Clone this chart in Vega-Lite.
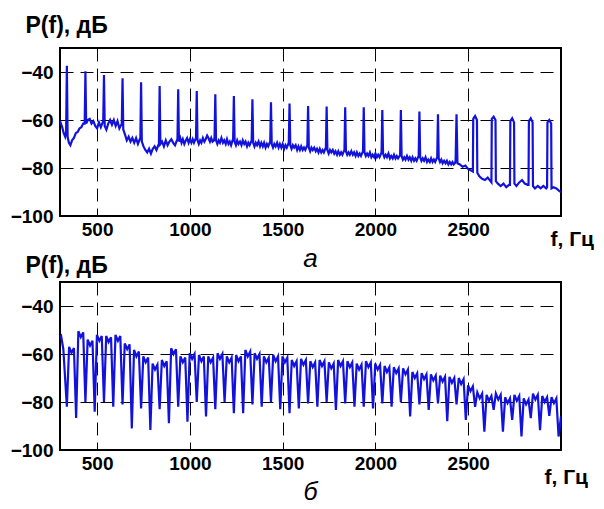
{
  "$schema": "https://vega.github.io/schema/vega-lite/v6.json",
  "padding": {"left": 9, "top": 13, "right": 5, "bottom": 2},
  "spacing": 66,
  "bounds": "flush",
  "config": {
    "font": "Liberation Sans",
    "view": {"stroke": "black", "strokeWidth": 2},
    "axis": {
      "labelFont": "Liberation Sans", "labelFontSize": 19, "labelFontWeight": "bold", "labelColor": "black", "format": "d",
      "grid": true, "gridColor": "black", "gridDash": [13, 7], "gridWidth": 1, "gridOpacity": 1,
      "domain": false, "ticks": false,
      "titleFont": "Liberation Sans", "titleFontSize": 21, "titleFontWeight": "bold", "titleColor": "black"
    },
    "axisX": {"labelPadding": 4},
    "axisY": {"labelPadding": 7, "titleFontSize": 23},
    "title": {"font": "Liberation Sans", "fontSize": 26, "fontStyle": "italic", "fontWeight": "normal", "color": "black"}
  },
  "vconcat": [
    {
      "width": 501, "height": 168,
      "title": {"text": "а", "orient": "bottom", "anchor": "middle", "offset": -3},
      "data": {"values": [
        {"f":300,"p":-60.5},{"f":305,"p":-61.5},{"f":312,"p":-63},{"f":320,"p":-65.5},{"f":328,"p":-67},{"f":333,"p":-65},{"f":337,"p":-37.4},{"f":341,"p":-67},
        {"f":348,"p":-69.5},{"f":356,"p":-70.5},{"f":365,"p":-68.5},{"f":375,"p":-67.5},{"f":385,"p":-65.5},{"f":395,"p":-65},{"f":405,"p":-63.5},{"f":415,"p":-63},{"f":425,"p":-61.5},{"f":433,"p":-61.5},{"f":437,"p":-39.7},{"f":441,"p":-61.5},
        {"f":450,"p":-60},{"f":460,"p":-59.5},{"f":470,"p":-61.5},{"f":480,"p":-60.5},{"f":490,"p":-62.5},{"f":500,"p":-63.5},{"f":510,"p":-61},{"f":520,"p":-63},{"f":530,"p":-61},{"f":533,"p":-60.5},{"f":537,"p":-41.3},{"f":541,"p":-62.5},
        {"f":550,"p":-64},{"f":560,"p":-61.5},{"f":570,"p":-60},{"f":580,"p":-62},{"f":590,"p":-60},{"f":600,"p":-62.5},{"f":610,"p":-60.5},{"f":620,"p":-63.5},{"f":630,"p":-62},{"f":633,"p":-62},{"f":637,"p":-42.6},{"f":641,"p":-64},
        {"f":650,"p":-66},{"f":660,"p":-68.5},{"f":670,"p":-67},{"f":680,"p":-69},{"f":690,"p":-67.5},{"f":700,"p":-69.5},{"f":710,"p":-67.5},{"f":720,"p":-70},{"f":730,"p":-68},{"f":733,"p":-68},{"f":737,"p":-44.3},{"f":741,"p":-69},
        {"f":750,"p":-71},{"f":760,"p":-72.5},{"f":770,"p":-73.5},{"f":780,"p":-72},{"f":790,"p":-74},{"f":800,"p":-72},{"f":810,"p":-71},{"f":820,"p":-72.5},{"f":830,"p":-70.5},{"f":833,"p":-70.5},{"f":837,"p":-45.8},{"f":841,"p":-70},
        {"f":850,"p":-69},{"f":860,"p":-71},{"f":870,"p":-68.5},{"f":880,"p":-70.5},{"f":890,"p":-69},{"f":900,"p":-68},{"f":910,"p":-69.5},{"f":920,"p":-70.5},{"f":930,"p":-68.5},{"f":933,"p":-68.5},{"f":937,"p":-47.2},{"f":941,"p":-69},
        {"f":948,"p":-67.5},{"f":955,"p":-69.5},{"f":962,"p":-68},{"f":970,"p":-70},{"f":978,"p":-68.5},{"f":985,"p":-67.5},{"f":993,"p":-69.5},{"f":1000,"p":-68},{"f":1008,"p":-69.5},{"f":1015,"p":-68},{"f":1022,"p":-69.5},{"f":1030,"p":-68},{"f":1033,"p":-67.5},{"f":1037,"p":-47.9},{"f":1041,"p":-68.5},
        {"f":1048,"p":-70},{"f":1055,"p":-68.5},{"f":1062,"p":-69.5},{"f":1070,"p":-67.5},{"f":1078,"p":-69},{"f":1085,"p":-68},{"f":1093,"p":-66.5},{"f":1100,"p":-67.5},{"f":1108,"p":-69},{"f":1115,"p":-67.5},{"f":1122,"p":-69},{"f":1130,"p":-68.5},{"f":1133,"p":-67},{"f":1137,"p":-49.3},{"f":1141,"p":-68.5},
        {"f":1148,"p":-70},{"f":1155,"p":-68.5},{"f":1162,"p":-69.5},{"f":1170,"p":-67.5},{"f":1178,"p":-69.5},{"f":1185,"p":-68.5},{"f":1193,"p":-70},{"f":1200,"p":-68},{"f":1208,"p":-70},{"f":1215,"p":-69},{"f":1222,"p":-70.5},{"f":1230,"p":-68.5},{"f":1233,"p":-68},{"f":1237,"p":-50},{"f":1241,"p":-69},
        {"f":1248,"p":-70.5},{"f":1255,"p":-68.5},{"f":1262,"p":-70},{"f":1270,"p":-69},{"f":1278,"p":-70.5},{"f":1285,"p":-68.5},{"f":1293,"p":-70},{"f":1300,"p":-69},{"f":1308,"p":-71},{"f":1315,"p":-69.5},{"f":1322,"p":-70.5},{"f":1330,"p":-69},{"f":1333,"p":-68.5},{"f":1337,"p":-51.4},{"f":1341,"p":-69.5},
        {"f":1348,"p":-71},{"f":1355,"p":-69.5},{"f":1362,"p":-70.5},{"f":1370,"p":-69},{"f":1378,"p":-71},{"f":1385,"p":-69.5},{"f":1393,"p":-71},{"f":1400,"p":-69.5},{"f":1408,"p":-71.5},{"f":1415,"p":-70},{"f":1422,"p":-71},{"f":1430,"p":-69.5},{"f":1433,"p":-69},{"f":1437,"p":-52.6},{"f":1441,"p":-70},
        {"f":1448,"p":-71.5},{"f":1455,"p":-70},{"f":1462,"p":-71},{"f":1470,"p":-69.5},{"f":1478,"p":-71.5},{"f":1485,"p":-70},{"f":1493,"p":-71.5},{"f":1500,"p":-70},{"f":1508,"p":-72},{"f":1515,"p":-70.5},{"f":1522,"p":-71.5},{"f":1530,"p":-70},{"f":1533,"p":-69.5},{"f":1537,"p":-53.1},{"f":1541,"p":-70.5},
        {"f":1548,"p":-72},{"f":1555,"p":-70.5},{"f":1562,"p":-71.5},{"f":1570,"p":-70.5},{"f":1578,"p":-72.5},{"f":1585,"p":-71},{"f":1593,"p":-72.5},{"f":1600,"p":-71},{"f":1608,"p":-72.5},{"f":1615,"p":-71.5},{"f":1622,"p":-72.5},{"f":1630,"p":-71},{"f":1633,"p":-70.5},{"f":1637,"p":-54.2},{"f":1641,"p":-71.5},
        {"f":1648,"p":-73},{"f":1655,"p":-71.5},{"f":1662,"p":-72.5},{"f":1670,"p":-71.5},{"f":1678,"p":-73},{"f":1685,"p":-72},{"f":1693,"p":-73.5},{"f":1700,"p":-72},{"f":1708,"p":-73.5},{"f":1715,"p":-72.5},{"f":1722,"p":-73.5},{"f":1730,"p":-72},{"f":1733,"p":-71.5},{"f":1737,"p":-54.4},{"f":1741,"p":-72.5},
        {"f":1748,"p":-74},{"f":1755,"p":-72.5},{"f":1762,"p":-73.5},{"f":1770,"p":-72.5},{"f":1778,"p":-74},{"f":1785,"p":-73},{"f":1793,"p":-74.5},{"f":1800,"p":-73},{"f":1808,"p":-74.5},{"f":1815,"p":-73.5},{"f":1822,"p":-74.5},{"f":1830,"p":-73},{"f":1833,"p":-72.5},{"f":1837,"p":-54.7},{"f":1841,"p":-73},
        {"f":1848,"p":-74.5},{"f":1855,"p":-73.5},{"f":1862,"p":-74.5},{"f":1870,"p":-73},{"f":1878,"p":-74.5},{"f":1885,"p":-73.5},{"f":1893,"p":-75},{"f":1900,"p":-73.5},{"f":1908,"p":-75},{"f":1915,"p":-74},{"f":1922,"p":-75},{"f":1930,"p":-73.5},{"f":1933,"p":-73},{"f":1937,"p":-54.7},{"f":1941,"p":-73.5},
        {"f":1948,"p":-75},{"f":1955,"p":-74},{"f":1962,"p":-75},{"f":1970,"p":-73.5},{"f":1978,"p":-75.5},{"f":1985,"p":-74.5},{"f":1993,"p":-75.5},{"f":2000,"p":-74},{"f":2008,"p":-75.5},{"f":2015,"p":-74.5},{"f":2022,"p":-75.5},{"f":2030,"p":-74},{"f":2033,"p":-73.5},{"f":2037,"p":-55.8},{"f":2041,"p":-74},
        {"f":2048,"p":-75.5},{"f":2055,"p":-74.5},{"f":2062,"p":-75.5},{"f":2070,"p":-74},{"f":2078,"p":-76},{"f":2085,"p":-75},{"f":2093,"p":-76},{"f":2100,"p":-74.5},{"f":2108,"p":-76},{"f":2115,"p":-75},{"f":2122,"p":-76},{"f":2130,"p":-75},{"f":2133,"p":-74.5},{"f":2137,"p":-55.8},{"f":2141,"p":-75},
        {"f":2148,"p":-76.5},{"f":2155,"p":-75.5},{"f":2162,"p":-76.5},{"f":2170,"p":-75},{"f":2178,"p":-76.5},{"f":2185,"p":-75.5},{"f":2193,"p":-77},{"f":2200,"p":-75.5},{"f":2208,"p":-77},{"f":2215,"p":-76},{"f":2222,"p":-77},{"f":2230,"p":-75.5},{"f":2233,"p":-75},{"f":2237,"p":-56.5},{"f":2241,"p":-75.5},
        {"f":2248,"p":-77},{"f":2255,"p":-76},{"f":2262,"p":-77},{"f":2270,"p":-75.5},{"f":2278,"p":-77.5},{"f":2285,"p":-76.5},{"f":2293,"p":-77.5},{"f":2300,"p":-76},{"f":2308,"p":-77.5},{"f":2315,"p":-76.5},{"f":2322,"p":-77.5},{"f":2330,"p":-76},{"f":2333,"p":-75.5},{"f":2337,"p":-57.6},{"f":2341,"p":-76},
        {"f":2348,"p":-77.5},{"f":2355,"p":-76.5},{"f":2362,"p":-78},{"f":2370,"p":-77},{"f":2378,"p":-78},{"f":2385,"p":-77},{"f":2393,"p":-78.5},{"f":2400,"p":-77.5},{"f":2408,"p":-78.5},{"f":2415,"p":-77.5},{"f":2422,"p":-78.5},{"f":2428,"p":-78},{"f":2432,"p":-77},{"f":2437,"p":-57.6},{"f":2442,"p":-78},
        {"f":2455,"p":-78.5},{"f":2470,"p":-79.5},{"f":2485,"p":-79},{"f":2500,"p":-80.5},{"f":2515,"p":-81},{"f":2525,"p":-81.5},{"f":2527,"p":-59.5},{"f":2537,"p":-58.3},{"f":2547,"p":-60},{"f":2549,"p":-82},
        {"f":2560,"p":-83.5},{"f":2575,"p":-84.5},{"f":2590,"p":-85},{"f":2605,"p":-84},{"f":2620,"p":-85.5},{"f":2625,"p":-86},{"f":2627,"p":-59.5},{"f":2637,"p":-58.6},{"f":2647,"p":-60},{"f":2649,"p":-85.5},
        {"f":2660,"p":-86.5},{"f":2675,"p":-87.5},{"f":2690,"p":-86.5},{"f":2705,"p":-88},{"f":2720,"p":-87},{"f":2725,"p":-87},{"f":2727,"p":-60.5},{"f":2737,"p":-59.3},{"f":2747,"p":-61},{"f":2749,"p":-86.5},
        {"f":2760,"p":-87.5},{"f":2775,"p":-86},{"f":2790,"p":-85},{"f":2805,"p":-86.5},{"f":2820,"p":-87},{"f":2825,"p":-87},{"f":2827,"p":-60.5},{"f":2837,"p":-59.3},{"f":2847,"p":-61},{"f":2849,"p":-87.5},
        {"f":2860,"p":-88.5},{"f":2875,"p":-87.5},{"f":2890,"p":-88.5},{"f":2905,"p":-87.5},{"f":2920,"p":-88.5},{"f":2925,"p":-88},{"f":2927,"p":-61},{"f":2937,"p":-60},{"f":2947,"p":-61.5},{"f":2949,"p":-88.5},
        {"f":2960,"p":-88},{"f":2975,"p":-88.5},{"f":2990,"p":-89.5},{"f":3000,"p":-90}
      ]},
      "mark": {"type": "line", "color": "#1212dc", "strokeWidth": 2.2, "clip": true},
      "encoding": {
        "x": {"field": "f", "type": "quantitative", "scale": {"domain": [300, 3000], "nice": false, "zero": false},
              "axis": {"values": [500, 1000, 1500, 2000, 2500], "title": "f, Гц", "titleAngle": 0, "titleX": 490, "titleY": 23, "titleAlign": "left", "titleBaseline": "middle"}},
        "y": {"field": "p", "type": "quantitative", "scale": {"domain": [-100, -30], "nice": false, "zero": false},
              "axis": {"values": [-100, -80, -60, -40], "title": "P(f), дБ", "titleAngle": 0, "titleX": -35, "titleY": -23, "titleAlign": "left", "titleBaseline": "middle"}}
      }
    },
    {
      "width": 501, "height": 168,
      "title": {"text": "б", "orient": "bottom", "anchor": "middle", "offset": -7, "fontSize": 25},
      "data": {"values": [
        {"f":300,"p":-53},{"f":306,"p":-52.5},{"f":318,"p":-58},
        {"f":337,"p":-82},{"f":349,"p":-57},{"f":362,"p":-59.5},{"f":375,"p":-57.5},
        {"f":387,"p":-86.7},{"f":399,"p":-50.5},{"f":412,"p":-53},{"f":425,"p":-51},
        {"f":437,"p":-80},{"f":449,"p":-54},{"f":462,"p":-56.5},{"f":475,"p":-54.5},
        {"f":487,"p":-84},{"f":499,"p":-52},{"f":512,"p":-54.5},{"f":525,"p":-52.5},
        {"f":537,"p":-80},{"f":549,"p":-52.5},{"f":562,"p":-55},{"f":575,"p":-53},
        {"f":587,"p":-82},{"f":599,"p":-52},{"f":612,"p":-54.5},{"f":625,"p":-52.5},
        {"f":637,"p":-81},{"f":649,"p":-55.6},{"f":662,"p":-58},{"f":675,"p":-56},
        {"f":687,"p":-91},{"f":699,"p":-58.3},{"f":712,"p":-61},{"f":725,"p":-59},
        {"f":737,"p":-82.7},{"f":749,"p":-61},{"f":762,"p":-63.5},{"f":775,"p":-61.5},
        {"f":787,"p":-91.7},{"f":799,"p":-64},{"f":812,"p":-66.5},{"f":825,"p":-64.5},
        {"f":837,"p":-83},{"f":849,"p":-62.5},{"f":862,"p":-65},{"f":875,"p":-63},
        {"f":887,"p":-88.8},{"f":899,"p":-57.6},{"f":912,"p":-60},{"f":925,"p":-58},
        {"f":937,"p":-82},{"f":949,"p":-61},{"f":962,"p":-63.5},{"f":975,"p":-61.5},
        {"f":987,"p":-88.2},{"f":999,"p":-59.7},{"f":1012,"p":-62},{"f":1025,"p":-60},
        {"f":1037,"p":-80},{"f":1049,"p":-60.4},{"f":1062,"p":-63},{"f":1075,"p":-61},
        {"f":1087,"p":-86},{"f":1099,"p":-61},{"f":1112,"p":-63.5},{"f":1125,"p":-61.5},
        {"f":1137,"p":-83},{"f":1149,"p":-59.7},{"f":1162,"p":-62},{"f":1175,"p":-60},
        {"f":1187,"p":-80},{"f":1199,"p":-61},{"f":1212,"p":-63.5},{"f":1225,"p":-61.5},
        {"f":1237,"p":-84.7},{"f":1249,"p":-60.4},{"f":1262,"p":-63},{"f":1275,"p":-61},
        {"f":1287,"p":-84.7},{"f":1299,"p":-58.3},{"f":1312,"p":-61},{"f":1325,"p":-59},
        {"f":1337,"p":-81},{"f":1349,"p":-59.7},{"f":1362,"p":-62},{"f":1375,"p":-60},
        {"f":1387,"p":-82},{"f":1399,"p":-61},{"f":1412,"p":-63.5},{"f":1425,"p":-61.5},
        {"f":1437,"p":-80},{"f":1449,"p":-60.4},{"f":1462,"p":-63},{"f":1475,"p":-61},
        {"f":1487,"p":-83},{"f":1499,"p":-61},{"f":1512,"p":-63.5},{"f":1525,"p":-61.5},
        {"f":1537,"p":-84.7},{"f":1549,"p":-62.5},{"f":1562,"p":-65},{"f":1575,"p":-63},
        {"f":1587,"p":-82.7},{"f":1599,"p":-62},{"f":1612,"p":-64.5},{"f":1625,"p":-62.5},
        {"f":1637,"p":-80.6},{"f":1649,"p":-63},{"f":1662,"p":-65.5},{"f":1675,"p":-63.5},
        {"f":1687,"p":-82},{"f":1699,"p":-62.5},{"f":1712,"p":-65},{"f":1725,"p":-63},
        {"f":1737,"p":-80},{"f":1749,"p":-63.5},{"f":1762,"p":-66},{"f":1775,"p":-64},
        {"f":1787,"p":-83.3},{"f":1799,"p":-62.5},{"f":1812,"p":-65},{"f":1825,"p":-63},
        {"f":1837,"p":-80.6},{"f":1849,"p":-63},{"f":1862,"p":-65.5},{"f":1875,"p":-63.5},
        {"f":1887,"p":-82},{"f":1899,"p":-64},{"f":1912,"p":-66.5},{"f":1925,"p":-64.5},
        {"f":1937,"p":-82},{"f":1949,"p":-63},{"f":1962,"p":-65.5},{"f":1975,"p":-63.5},
        {"f":1987,"p":-82.7},{"f":1999,"p":-64},{"f":2012,"p":-66.5},{"f":2025,"p":-64.5},
        {"f":2037,"p":-80.6},{"f":2049,"p":-65},{"f":2062,"p":-67.5},{"f":2075,"p":-65.5},
        {"f":2087,"p":-82},{"f":2099,"p":-65.5},{"f":2112,"p":-68},{"f":2125,"p":-66},
        {"f":2137,"p":-80},{"f":2149,"p":-66},{"f":2162,"p":-68.5},{"f":2175,"p":-66.5},
        {"f":2187,"p":-86},{"f":2199,"p":-67.5},{"f":2212,"p":-70},{"f":2225,"p":-68},
        {"f":2237,"p":-81},{"f":2249,"p":-68},{"f":2262,"p":-70.5},{"f":2275,"p":-68.5},
        {"f":2287,"p":-83.3},{"f":2299,"p":-68.5},{"f":2312,"p":-71},{"f":2325,"p":-69},
        {"f":2337,"p":-80.6},{"f":2349,"p":-69},{"f":2362,"p":-71.5},{"f":2375,"p":-69.5},
        {"f":2387,"p":-88},{"f":2399,"p":-69.5},{"f":2412,"p":-72},{"f":2425,"p":-70},
        {"f":2437,"p":-81},{"f":2449,"p":-70},{"f":2462,"p":-72.5},{"f":2475,"p":-70.5},
        {"f":2487,"p":-87.5},{"f":2499,"p":-73},{"f":2512,"p":-75.5},{"f":2525,"p":-73.5},
        {"f":2537,"p":-82},{"f":2549,"p":-76},{"f":2562,"p":-78.5},{"f":2575,"p":-76.5},
        {"f":2587,"p":-92.4},{"f":2599,"p":-77},{"f":2612,"p":-79.5},{"f":2625,"p":-77.5},
        {"f":2637,"p":-83.3},{"f":2649,"p":-76.5},{"f":2662,"p":-79},{"f":2675,"p":-77},
        {"f":2687,"p":-92.4},{"f":2699,"p":-78},{"f":2712,"p":-80.5},{"f":2725,"p":-78.5},
        {"f":2737,"p":-87.5},{"f":2749,"p":-77},{"f":2762,"p":-79.5},{"f":2775,"p":-77.5},
        {"f":2787,"p":-94.4},{"f":2799,"p":-78.5},{"f":2812,"p":-81},{"f":2825,"p":-79},
        {"f":2837,"p":-86.7},{"f":2849,"p":-76.5},{"f":2862,"p":-79},{"f":2875,"p":-77},
        {"f":2887,"p":-91.7},{"f":2899,"p":-77.5},{"f":2912,"p":-80},{"f":2925,"p":-78},
        {"f":2937,"p":-85.8},{"f":2949,"p":-78},{"f":2962,"p":-80.5},{"f":2975,"p":-78.5},
        {"f":2987,"p":-94.4},{"f":3000,"p":-86}
      ]},
      "mark": {"type": "line", "color": "#1212dc", "strokeWidth": 2.2, "clip": true},
      "encoding": {
        "x": {"field": "f", "type": "quantitative", "scale": {"domain": [300, 3000], "nice": false, "zero": false},
              "axis": {"values": [500, 1000, 1500, 2000, 2500], "title": "f, Гц", "titleAngle": 0, "titleX": 484, "titleY": 27, "titleAlign": "left", "titleBaseline": "middle"}},
        "y": {"field": "p", "type": "quantitative", "scale": {"domain": [-100, -30], "nice": false, "zero": false},
              "axis": {"values": [-100, -80, -60, -40], "title": "P(f), дБ", "titleAngle": 0, "titleX": -35, "titleY": -17, "titleAlign": "left", "titleBaseline": "middle"}}
      }
    }
  ]
}
